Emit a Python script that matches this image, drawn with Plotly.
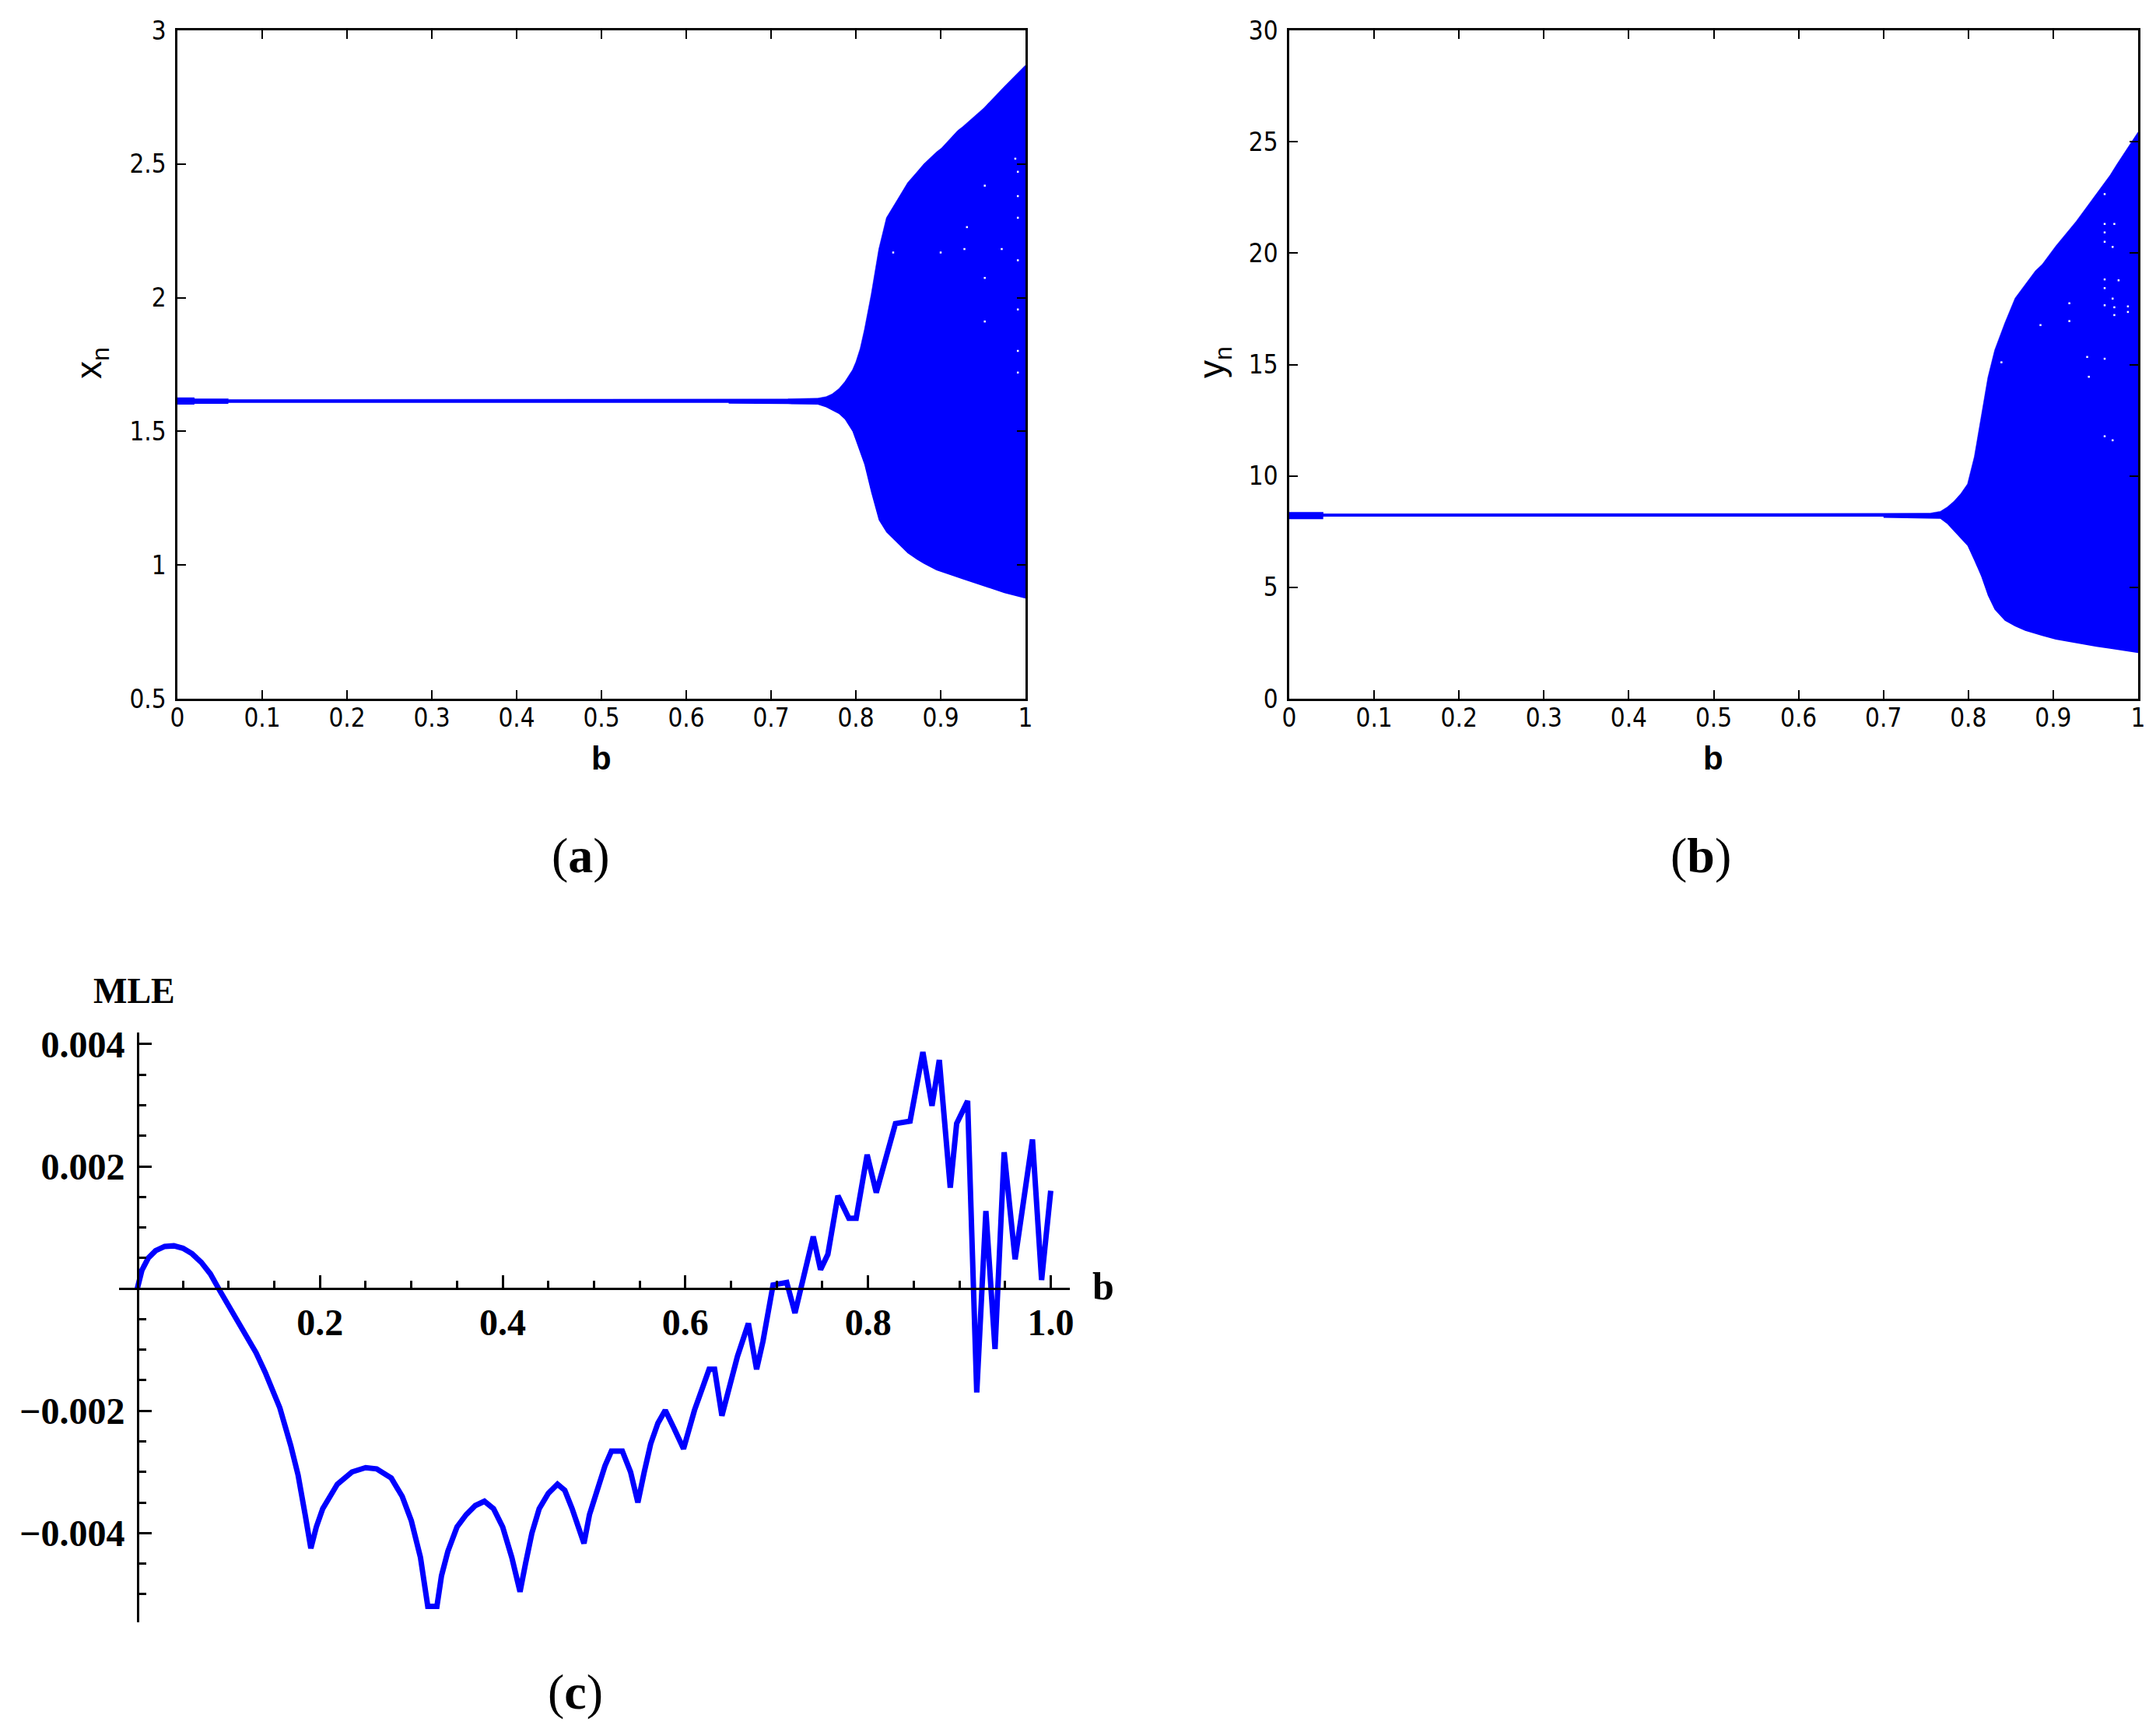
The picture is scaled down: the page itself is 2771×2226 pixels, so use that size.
import numpy as np
import plotly.graph_objects as go

W, H = 2771, 2226
OFF = 8            # default body margin of the written HTML page
FW, FH = W - 2 * OFF, H - 2 * OFF

# ---------------- Panel (a): x_n bifurcation envelope ----------------
b_a = [0, 0.02, 0.0201, 0.06, 0.0601, 0.65, 0.6501, 0.72, 0.7201, 0.755, 0.765, 0.772,
       0.780, 0.787, 0.796, 0.800, 0.805, 0.810, 0.818, 0.827, 0.836, 0.846, 0.861,
       0.872, 0.880, 0.895, 0.901, 0.920, 0.926, 0.951, 0.975, 1.0]
xa_upper = [1.626, 1.626, 1.622, 1.622, 1.619, 1.619, 1.621, 1.621, 1.622, 1.624, 1.630, 1.640,
            1.660, 1.686, 1.730, 1.760, 1.810, 1.880, 2.012, 2.182, 2.299, 2.350, 2.430,
            2.470, 2.500, 2.545, 2.560, 2.625, 2.640, 2.710, 2.790, 2.870]
xa_lower = [1.600, 1.600, 1.603, 1.603, 1.607, 1.607, 1.604, 1.604, 1.602, 1.600, 1.590, 1.578,
            1.565, 1.545, 1.500, 1.465, 1.420, 1.376, 1.272, 1.168, 1.122, 1.090, 1.044,
            1.020, 1.005, 0.980, 0.973, 0.953, 0.947, 0.921, 0.895, 0.875]
xa_gap_b = [0.991, 0.952, 0.991, 0.991, 0.931, 0.844, 0.900, 0.928, 0.972, 0.991, 0.952,
            0.991, 0.952, 0.991, 0.991, 0.988]
xa_gap_v = [2.471, 2.419, 2.380, 2.299, 2.264, 2.169, 2.169, 2.182, 2.182, 2.140, 2.074,
            1.956, 1.911, 1.801, 1.720, 2.520]

# ---------------- Panel (b): y_n bifurcation envelope ----------------
b_b = [0, 0.04, 0.0401, 0.70, 0.7001, 0.755, 0.767, 0.775, 0.783, 0.791, 0.799, 0.807,
       0.815, 0.823, 0.831, 0.843, 0.855, 0.867, 0.879, 0.887, 0.903, 0.927, 0.951,
       0.967, 0.975, 1.0]
yb_upper = [8.37, 8.37, 8.30, 8.30, 8.32, 8.33, 8.41, 8.60, 8.86, 9.20, 9.64, 10.86,
            12.64, 14.42, 15.65, 16.87, 17.98, 18.60, 19.21, 19.50, 20.32, 21.43, 22.66,
            23.50, 23.99, 25.44]
yb_lower = [8.06, 8.06, 8.17, 8.17, 8.12, 8.10, 8.08, 7.85, 7.52, 7.20, 6.86, 6.20,
            5.50, 4.63, 4.00, 3.50, 3.25, 3.05, 2.90, 2.82, 2.65, 2.48, 2.33,
            2.24, 2.20, 2.05]
yb_gap_b = [0.9606, 0.9606, 0.972, 0.9606, 0.9606, 0.970, 0.9606, 0.977, 0.9606, 0.970,
            0.9606, 0.972, 0.972, 0.919, 0.919, 0.988, 0.988, 0.885, 0.940, 0.9606,
            0.942, 0.9606, 0.970, 0.839]
yb_gap_v = [22.65, 21.31, 21.31, 20.93, 20.51, 20.28, 18.82, 18.78, 18.43, 17.96,
            17.66, 17.57, 17.22, 17.75, 16.95, 17.61, 17.36, 16.77, 15.34, 15.26,
            14.45, 11.78, 11.60, 15.10]

# ---------------- Panel (c): maximum Lyapunov exponent ----------------
b_c = [0, 0.005, 0.012, 0.02, 0.03, 0.04, 0.05, 0.06, 0.07, 0.08, 0.089,
       0.103, 0.117, 0.130, 0.140, 0.156, 0.168, 0.176, 0.184, 0.190,
       0.196, 0.203, 0.219, 0.235, 0.250, 0.262, 0.278, 0.290, 0.300, 0.310, 0.318, 0.328,
       0.333, 0.340, 0.350, 0.360, 0.370, 0.380, 0.390, 0.400, 0.410, 0.419,
       0.425, 0.432, 0.440, 0.450, 0.460, 0.468, 0.476, 0.483, 0.489,
       0.495, 0.503, 0.512, 0.519, 0.531, 0.540, 0.548,
       0.555, 0.562, 0.570, 0.578, 0.588, 0.598, 0.610, 0.626, 0.632, 0.640,
       0.657, 0.669, 0.678, 0.685, 0.696, 0.711, 0.720, 0.728, 0.740, 0.748, 0.756,
       0.767, 0.779, 0.787, 0.799, 0.809, 0.823, 0.830, 0.846, 0.860, 0.870, 0.878,
       0.890, 0.897, 0.909, 0.919, 0.929, 0.939, 0.949, 0.961, 0.980, 0.990, 1.0]
mle = [0, 0.0003, 0.0005, 0.00062, 0.00069, 0.0007, 0.00066, 0.00057, 0.00043, 0.00024, 0.0,
       -0.00036, -0.00069, -0.00105, -0.00137, -0.00195, -0.00257, -0.00305, -0.00372, -0.00425,
       -0.0039, -0.0036, -0.0032, -0.0030, -0.00293, -0.00295, -0.0031, -0.0034, -0.0038,
       -0.0044, -0.0052, -0.0052,
       -0.0047, -0.0043, -0.0039, -0.0037, -0.00355, -0.00348, -0.0036, -0.0039, -0.0044,
       -0.00496,
       -0.0045, -0.0040, -0.0036, -0.00335, -0.0032, -0.0033, -0.0036, -0.0039, -0.00417,
       -0.0037, -0.0033, -0.0029, -0.00266, -0.00266, -0.0030, -0.0035,
       -0.0030, -0.00254, -0.0022, -0.00199, -0.0023, -0.00262, -0.00199, -0.00132,
       -0.00132, -0.00208,
       -0.00111, -0.00057, -0.00132, -0.00086, 0.00006, 0.0001, -0.0004, 0.00014, 0.00085,
       0.00031, 0.00056,
       0.00152, 0.00115, 0.00115, 0.00219, 0.00157, 0.00232, 0.0027, 0.00274, 0.00387,
       0.00299, 0.00374,
       0.00165, 0.0027, 0.00307, -0.0017, 0.00127, -0.00099, 0.00223, 0.00048, 0.00244,
       0.00014, 0.0016]

# tick labels
ab_xticks = [0, 0.1, 0.2, 0.3, 0.4, 0.5, 0.6, 0.7, 0.8, 0.9, 1]
ab_xticktext = ['0', '0.1', '0.2', '0.3', '0.4', '0.5', '0.6', '0.7', '0.8', '0.9', '1']
a_yticks = [0.5, 1, 1.5, 2, 2.5, 3]
a_yticktext = ['0.5', '1', '1.5', '2', '2.5', '3']
b_yticks = [0, 5, 10, 15, 20, 25, 30]
b_yticktext = ['0', '5', '10', '15', '20', '25', '30']
c_xticks = [0.2, 0.4, 0.6, 0.8, 1.0]
c_xticktext = ['0.2', '0.4', '0.6', '0.8', '1.0']
c_yticks = [-0.004, -0.002, 0.002, 0.004]
c_yticktext = ['\u22120.004', '\u22120.002', '0.002', '0.004']

BLUE = '#0000FF'


def px(p):
    return (p - OFF) / FW


def py(p):
    return 1 - (p - OFF) / FH


fig = go.Figure()

# (a)
fig.add_trace(go.Scatter(x=b_a, y=xa_lower, mode='lines', line=dict(width=0, color=BLUE),
                         showlegend=False, xaxis='x', yaxis='y', hoverinfo='skip'))
fig.add_trace(go.Scatter(x=b_a, y=xa_upper, mode='lines', line=dict(width=0.5, color=BLUE),
                         fill='tonexty', fillcolor=BLUE, showlegend=False,
                         xaxis='x', yaxis='y', hoverinfo='skip'))
fig.add_trace(go.Scatter(x=xa_gap_b, y=xa_gap_v, mode='markers',
                         marker=dict(symbol='square', size=2.5, color='white', line=dict(width=0)),
                         showlegend=False, xaxis='x', yaxis='y', hoverinfo='skip'))

# (b)
fig.add_trace(go.Scatter(x=b_b, y=yb_lower, mode='lines', line=dict(width=0, color=BLUE),
                         showlegend=False, xaxis='x2', yaxis='y2', hoverinfo='skip'))
fig.add_trace(go.Scatter(x=b_b, y=yb_upper, mode='lines', line=dict(width=0.5, color=BLUE),
                         fill='tonexty', fillcolor=BLUE, showlegend=False,
                         xaxis='x2', yaxis='y2', hoverinfo='skip'))
fig.add_trace(go.Scatter(x=yb_gap_b, y=yb_gap_v, mode='markers',
                         marker=dict(symbol='square', size=2.5, color='white', line=dict(width=0)),
                         showlegend=False, xaxis='x2', yaxis='y2', hoverinfo='skip'))

# (c)
fig.add_trace(go.Scatter(x=b_c, y=mle, mode='lines', line=dict(width=7, color=BLUE),
                         showlegend=False, xaxis='x3', yaxis='y3', hoverinfo='skip'))

mat_font = dict(family='Liberation Sans Narrow, DejaVu Sans Condensed, Arial Narrow, sans-serif',
                size=33, color='black')
box_common = dict(showline=True, linecolor='black', linewidth=2.5, mirror='ticks',
                  ticks='inside', ticklen=11, tickwidth=2, tickcolor='black',
                  showgrid=False, zeroline=False, tickfont=mat_font, tickmode='array',
                  automargin=False)

c_font = dict(family='Liberation Serif, Times New Roman, serif', size=48, color='black',
              weight='bold')

c_xminor = [round(v, 3) for v in np.arange(0.05, 1.0001, 0.05)]
c_yminor = [round(v, 5) for v in np.arange(-0.0055, 0.00401, 0.0005)]

fig.update_layout(
    width=FW, height=FH, autosize=False,
    margin=dict(l=0, r=0, t=0, b=0, pad=0),
    paper_bgcolor='white', plot_bgcolor='rgba(0,0,0,0)',
    xaxis=dict(domain=[px(228), px(1318)], range=[0, 1], anchor='y',
               tickvals=ab_xticks, ticktext=ab_xticktext, ticklabelstandoff=-6, **box_common),
    yaxis=dict(domain=[py(898), py(39)], range=[0.5, 3], anchor='x',
               tickvals=a_yticks, ticktext=a_yticktext, ticklabelstandoff=5, **box_common),
    xaxis2=dict(domain=[px(1657), px(2748)], range=[0, 1], anchor='y2',
                tickvals=ab_xticks, ticktext=ab_xticktext, ticklabelstandoff=-6, **box_common),
    yaxis2=dict(domain=[py(898), py(39)], range=[0, 30], anchor='x2',
                tickvals=b_yticks, ticktext=b_yticktext, ticklabelstandoff=5, **box_common),
    xaxis3=dict(domain=[px(153), px(1375)], range=[-0.02, 1.0209], anchor='free',
                position=py(1656), side='bottom', automargin=False,
                showline=True, linecolor='black', linewidth=3, showgrid=False, zeroline=False,
                tickmode='array', tickvals=c_xticks, ticktext=c_xticktext,
                ticks='inside', ticklen=16, tickwidth=3, tickcolor='black',
                minor=dict(tickmode='array', tickvals=c_xminor, ticks='inside', ticklen=9,
                           tickwidth=3, tickcolor='black', showgrid=False),
                tickfont=c_font, ticklabelstandoff=0),
    yaxis3=dict(domain=[py(2085), py(1327)], range=[-0.00546, 0.00419], anchor='free',
                position=px(177), side='left', automargin=False,
                showline=True, linecolor='black', linewidth=3, showgrid=False, zeroline=False,
                tickmode='array', tickvals=c_yticks, ticktext=c_yticktext,
                ticks='inside', ticklen=16, tickwidth=3, tickcolor='black',
                minor=dict(tickmode='array', tickvals=c_yminor, ticks='inside', ticklen=9,
                           tickwidth=3, tickcolor='black', showgrid=False),
                tickfont=c_font, ticklabelstandoff=6),
)

ann = []
lab_font = dict(family='Liberation Sans, Arial, sans-serif', size=42, color='black',
                weight='bold')
ann.append(dict(x=px(773), y=py(974), text='b', font=lab_font))
ann.append(dict(x=px(2202), y=py(974), text='b', font=lab_font))
ytitle_font = dict(family='Liberation Sans, Arial, sans-serif', size=46, color='black')
ann.append(dict(x=px(117), y=py(466), text='x<sub>n</sub>', textangle=-90, font=ytitle_font))
ann.append(dict(x=px(1560), y=py(466), text='y<sub>n</sub>', textangle=-90, font=ytitle_font))
serif_b = dict(family='Liberation Serif, Times New Roman, serif', size=46, color='black',
               weight='bold')
ann.append(dict(x=px(172), y=py(1273), text='MLE', font=serif_b))
ann.append(dict(x=px(1418), y=py(1653), text='b', font=dict(family='Liberation Serif, serif',
                                                            size=50, color='black', weight='bold')))
cap_font = dict(family='Liberation Serif, Times New Roman, serif', size=64, color='black')
ann.append(dict(x=px(746), y=py(1099), text='(<b>a</b>)', font=cap_font))
ann.append(dict(x=px(2186), y=py(1099), text='(<b>b</b>)', font=cap_font))
ann.append(dict(x=px(739), y=py(2174), text='(<b>c</b>)', font=cap_font))
for a in ann:
    a.update(xref='paper', yref='paper', showarrow=False, xanchor='center', yanchor='middle')
fig.update_layout(annotations=ann)

fig.write_html('out.html')
